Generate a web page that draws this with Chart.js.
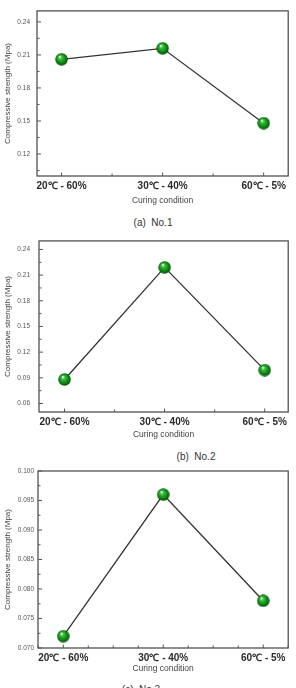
<!DOCTYPE html>
<html>
<head>
<meta charset="utf-8">
<script src="https://cdn.jsdelivr.net/npm/chart.js@4.4.0/dist/chart.umd.min.js"></script>
<style>
  body{margin:0;background:#fff;width:296px;height:688px;overflow:hidden;position:relative;font-family:'Liberation Sans',Arial,sans-serif;}
  .box{position:absolute;left:0;width:296px;}
  .cap{position:absolute;font-size:10px;color:#333;white-space:pre;transform:translate(-50%,-50%);}
</style>
</head>
<body>
<div class="box" style="top:0;height:206px"><canvas id="c1"></canvas></div>
<div class="cap" style="left:153px;top:222px">(a)  No.1</div>
<div class="box" style="top:228px;height:212px"><canvas id="c2"></canvas></div>
<div class="cap" style="left:196px;top:456px">(b)  No.2</div>
<div class="box" style="top:460px;height:214px"><canvas id="c3"></canvas></div>
<div class="cap" style="left:141px;top:689px">(c)  No.3</div>
<script>
// data
const conditions = ['20℃ - 60%', '30℃ - 40%', '60℃ - 5%'];
const strengthNo1 = [0.206, 0.216, 0.148];
const strengthNo2 = [0.088, 0.219, 0.099];
const strengthNo3 = [0.072, 0.096, 0.078];
const yTicksNo1 = [0.12, 0.15, 0.18, 0.21, 0.24];
const yTicksNo2 = [0.06, 0.09, 0.12, 0.15, 0.18, 0.21, 0.24];
const yTicksNo3 = [0.070, 0.075, 0.080, 0.085, 0.090, 0.095, 0.100];

Chart.defaults.font.family = "'Liberation Sans', Arial, sans-serif";
Chart.defaults.animation = false;

function sphere(r){
  const c = document.createElement('canvas');
  c.width = c.height = r*2;
  const g = c.getContext('2d');
  const grad = g.createRadialGradient(r*0.72, r*0.6, 0.4, r, r, r);
  grad.addColorStop(0, '#eaffea');
  grad.addColorStop(0.22, '#43c043');
  grad.addColorStop(0.65, '#0d8c12');
  grad.addColorStop(1, '#03490a');
  g.fillStyle = grad;
  g.beginPath(); g.arc(r, r, r-0.3, 0, Math.PI*2); g.fill();
  return c;
}
const ball = sphere(6.5);

// frame + inward tick marks
const frameTicks = {
  id: 'frameTicks',
  beforeDatasetsDraw(chart, args, opts){
    const {ctx, chartArea: a, scales} = chart;
    ctx.save();
    ctx.strokeStyle = '#444';
    ctx.lineWidth = 1.2;
    ctx.strokeRect(a.left, a.top, a.right - a.left, a.bottom - a.top);
    ctx.lineWidth = 1;
    ctx.strokeStyle = '#555';
    const marks = (scale, div) => {
      const vals = scale.ticks.map(t => t.value);
      const step = vals[1] - vals[0];
      const minor = step / div;
      const out = [];
      for (let v = vals[0] - step; v <= vals[vals.length-1] + step + 1e-9; v += minor){
        if (v < scale.min - 1e-9 || v > scale.max + 1e-9) continue;
        const k = Math.round((v - vals[0]) / minor);
        out.push({px: scale.getPixelForValue(v), major: k % div === 0});
      }
      return out;
    };
    marks(scales.x, opts.xDiv).forEach(m => {
      const len = m.major ? 3.5 : 2.5;
      ctx.beginPath(); ctx.moveTo(m.px, a.bottom); ctx.lineTo(m.px, a.bottom - len); ctx.stroke();
    });
    marks(scales.y, opts.yDiv).forEach(m => {
      const len = m.major ? 4 : 2.5;
      ctx.beginPath(); ctx.moveTo(a.left, m.px); ctx.lineTo(a.left + len, m.px); ctx.stroke();
    });
    ctx.restore();
  }
};

function makeChart(id, values, yTicks, cfg){
  return new Chart(document.getElementById(id), {
    type: 'line',
    data: {
      datasets: [{
        data: values.map((v, i) => ({x: i, y: v})),
        borderColor: '#333',
        borderWidth: 1.3,
        pointStyle: ball,
        pointRadius: 6.5,
        pointHoverRadius: 6.5
      }]
    },
    options: {
      responsive: true,
      maintainAspectRatio: false,
      layout: {padding: {top: cfg.top, right: cfg.right, left: 0, bottom: 0}},
      plugins: {
        legend: {display: false},
        tooltip: {enabled: false},
        frameTicks: {xDiv: cfg.xDiv, yDiv: 2}
      },
      scales: {
        x: {
          type: 'linear',
          min: cfg.xMin, max: cfg.xMax,
          grid: {display: false, drawTicks: false},
          border: {display: false},
          afterBuildTicks: s => { s.ticks = conditions.map((c, i) => ({value: i})); },
          afterFit: s => { s.height = cfg.xH; },
          ticks: {
            padding: 4,
            autoSkip: false,
            maxRotation: 0,
            color: '#2a2a2a',
            font: {size: 10, weight: 'bold'},
            callback: v => conditions[v]
          },
          title: {display: true, text: 'Curing condition', color: '#444', font: {size: 8.5}, padding: 0}
        },
        y: {
          min: cfg.yMin, max: cfg.yMax,
          grid: {display: false, drawTicks: false},
          border: {display: false},
          afterBuildTicks: s => { s.ticks = yTicks.map(v => ({value: v})); },
          afterFit: s => { s.width = cfg.yW; },
          ticks: {
            padding: cfg.yPad,
            color: '#555',
            font: {size: 6.5},
            callback: v => v.toFixed(cfg.dec)
          },
          title: {display: true, text: 'Compressive strength (Mpa)', color: '#444', font: {size: 8}, padding: {top: 2.5, bottom: 0}}
        }
      }
    },
    plugins: [frameTicks]
  });
}

makeChart('c1', strengthNo1, yTicksNo1, {top: 5, right: 3, yW: 37, xH: 30, xMin: -0.243, xMax: 2.243, yMin: 0.10, yMax: 0.25, yPad: 7, dec: 2, xDiv: 2});
makeChart('c2', strengthNo2, yTicksNo2, {top: 10, right: 3, yW: 39, xH: 28, xMin: -0.255, xMax: 2.235, yMin: 0.05, yMax: 0.25, yPad: 9, dec: 2, xDiv: 2});
makeChart('c3', strengthNo3, yTicksNo3, {top: 11, right: 1, yW: 38, xH: 26, xMin: -0.253, xMax: 2.25, yMin: 0.07, yMax: 0.10, yPad: 4, dec: 3, xDiv: 4});
</script>
</body>
</html>
